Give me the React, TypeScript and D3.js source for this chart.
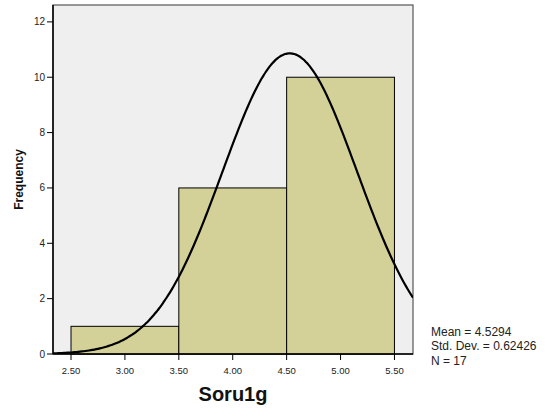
import React from 'react';
import * as d3 from 'd3';

const binEdges = [2.5, 3.5, 4.5, 5.5];
const binCounts = [1, 6, 10];
const xTicks = [2.5, 3.0, 3.5, 4.0, 4.5, 5.0, 5.5];
const yTicks = [0, 2, 4, 6, 8, 10, 12];
const statMean = 4.5294;
const statSd = 0.62426;
const statN = 17;
const statLines = ['Mean = 4.5294', 'Std. Dev. = 0.62426', 'N = 17'];

export default function App() {
  const width = 546;
  const height = 416;
  const plot = { left: 53, top: 5, right: 413, bottom: 354 };

  const x = d3.scaleLinear().domain([2.333, 5.672]).range([plot.left, plot.right]);
  const y = d3.scaleLinear().domain([0, 12.61]).range([plot.bottom, plot.top]);

  const binWidth = binEdges[1] - binEdges[0];
  const pdf = (v: number) =>
    statN * binWidth * Math.exp(-0.5 * ((v - statMean) / statSd) ** 2) / (statSd * Math.sqrt(2 * Math.PI));
  const curvePts = d3.range(0, 201).map(i => {
    const v = x.domain()[0] + (x.domain()[1] - x.domain()[0]) * i / 200;
    return [v, pdf(v)] as [number, number];
  });
  const line = d3.line<[number, number]>()
    .x(d => x(d[0]))
    .y(d => y(d[1]))
    .curve(d3.curveBasis);

  const font = '"Liberation Sans", Arial, sans-serif';

  return (
    <svg width={width} height={height} style={{ position: 'absolute', left: 0, top: 0 }}>
      <rect x={0} y={0} width={width} height={height} fill="#fff" />
      <defs>
        <clipPath id="plotclip">
          <rect x={plot.left} y={plot.top} width={plot.right - plot.left} height={plot.bottom - plot.top} />
        </clipPath>
      </defs>
      <rect x={plot.left} y={plot.top} width={plot.right - plot.left} height={plot.bottom - plot.top}
        fill="#efefef" stroke="#555" strokeWidth={1.2} />

      {binCounts.map((c, i) => (
        <rect key={i}
          x={x(binEdges[i])} y={y(c)}
          width={x(binEdges[i + 1]) - x(binEdges[i])} height={y(0) - y(c)}
          fill="#d3d098" stroke="#000" strokeWidth={1} />
      ))}

      <path d={line(curvePts) || ''} fill="none" stroke="#000" strokeWidth={2.2} clipPath="url(#plotclip)" />

      {/* axes */}
      <line x1={plot.left} x2={plot.left} y1={plot.top} y2={plot.bottom} stroke="#000" strokeWidth={1.5} />
      <line x1={plot.left} x2={plot.right} y1={plot.bottom} y2={plot.bottom} stroke="#000" strokeWidth={1.5} />

      {yTicks.map(t => (
        <g key={t}>
          <line x1={plot.left - 6} x2={plot.left} y1={y(t)} y2={y(t)} stroke="#000" strokeWidth={1} />
          <text x={plot.left - 8} y={y(t)} dy="0.35em" textAnchor="end" fontSize={10} fontFamily={font} fill="#222">{t}</text>
        </g>
      ))}
      {xTicks.map(t => (
        <g key={t}>
          <line x1={x(t)} x2={x(t)} y1={plot.bottom} y2={plot.bottom + 6} stroke="#000" strokeWidth={1} />
          <text x={x(t)} y={plot.bottom + 17} dy="0.35em" textAnchor="middle" fontSize={9.5} fontFamily={font} fill="#222">{t.toFixed(2)}</text>
        </g>
      ))}

      <text transform={`translate(23,${(plot.top + plot.bottom) / 2}) rotate(-90)`} textAnchor="middle"
        fontSize={12} fontWeight="bold" fontFamily={font} fill="#111">Frequency</text>
      <text x={(plot.left + plot.right) / 2} y={401} textAnchor="middle"
        fontSize={20} fontWeight="bold" fontFamily={font} fill="#111">Soru1g</text>

      {statLines.map((s, i) => (
        <text key={i} x={431} y={335.5 + i * 14.5} fontSize={12} fontFamily={font} fill="#222">{s}</text>
      ))}
    </svg>
  );
}
